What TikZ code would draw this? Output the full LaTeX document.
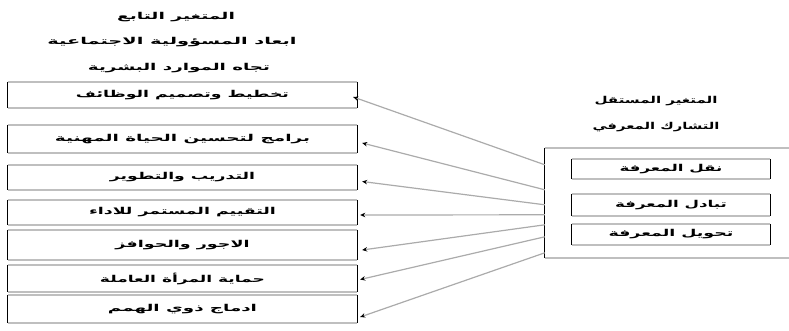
\documentclass[tikz,border=0pt]{standalone}
\usepackage{fontspec}
\usepackage{graphicx}
\usetikzlibrary{arrows.meta}
\TeXXeTstate=1
\newfontfamily\arabicfont[Script=Arabic]{DejaVu Sans}
\newcommand{\artxt}[2]{\resizebox{#1pt}{\height}{\fontsize{9.5pt}{11pt}\arabicfont\bfseries #2}}
\begin{document}
\begin{tikzpicture}[x=1pt,y=-1pt,
  gline/.style={draw=black!25,line width=1.8pt},
  sline/.style={draw=black,line width=0.8pt},
  conn/.style={draw=black!33,line width=1.2pt,-{Stealth[length=5pt,width=4.5pt,black]}},
  lbox/.style={inner sep=0pt,minimum width=349pt},
  rbox/.style={inner sep=0pt,minimum width=198pt},
  ttl/.style={inner sep=0pt}]
\useasboundingbox (0,0) rectangle (789,331);
\clip (0,0) rectangle (789,331);
% titles
\node[ttl] (t1) at (176,17) {\artxt{118}{\beginR المتغير التابع\endR}};
\node[ttl] (t2) at (172,42) {\artxt{249}{\beginR ابعاد المسؤولية الاجتماعية\endR}};
\node[ttl] (t3) at (179,68) {\artxt{182}{\beginR تجاه الموارد البشرية\endR}};
\node[ttl] (r1) at (656,101) {\artxt{123}{\beginR المتغير المستقل\endR}};
\node[ttl] (r2) at (656,127) {\artxt{127}{\beginR التشارك المعرفي\endR}};
% left boxes
\node[lbox,minimum height=26pt] (b1) at (182.5,95) {\artxt{213}{\beginR تخطيط وتصميم الوظائف\endR}};
\node[lbox,minimum height=28pt] (b2) at (182.5,139) {\artxt{255}{\beginR برامج لتحسين الحياة المهنية\endR}};
\node[lbox,minimum height=25pt] (b3) at (182.5,177.5) {\artxt{145}{\beginR التدريب والتطوير\endR}};
\node[lbox,minimum height=25pt] (b4) at (182.5,212.5) {\artxt{187}{\beginR التقييم المستمر للاداء\endR}};
\node[lbox,minimum height=30pt] (b5) at (182.5,245) {\artxt{134}{\beginR الاجور والحوافز\endR}};
\node[lbox,minimum height=27pt] (b6) at (182.5,278.5) {\artxt{165}{\beginR حماية المرأة العاملة\endR}};
\node[lbox,minimum height=28pt] (b7) at (182.5,309) {\artxt{149}{\beginR ادماج ذوي الهمم\endR}};
% right big box
\node[inner sep=0pt,minimum width=255pt,minimum height=110pt] (ind) at (672.5,203) {};
\node[rbox,minimum height=20pt] (k1) at (671,169) {\artxt{103}{\beginR نقل المعرفة\endR}};
\node[rbox,minimum height=22pt] (k2) at (671,205) {\artxt{112}{\beginR تبادل المعرفة\endR}};
\node[rbox,minimum height=21pt] (k3) at (671,234.5) {\artxt{125}{\beginR تحويل المعرفة\endR}};
\foreach \n in {b1,b2,b3,b4,b5,b6,b7,k1,k2,k3} {
  \draw[gline] (\n.north west) -- (\n.north east) (\n.south west) -- (\n.south east);
  \draw[sline] (\n.north west) -- (\n.south west) (\n.north east) -- (\n.south east);
}
\draw[gline] (ind.north west) -- (ind.north east) (ind.south west) -- (ind.south east);
\draw[sline] (ind.north west) -- (ind.south west);
% connectors
\draw[conn] ([shift={(0,17)}]ind.north west) -- ([shift={(-4,2)}]b1.east);
\draw[conn] ([shift={(0,42)}]ind.north west) -- ([shift={(5,4)}]b2.east);
\draw[conn] ([shift={(0,57)}]ind.north west) -- ([shift={(5,4)}]b3.east);
\draw[conn] ([shift={(0,67)}]ind.north west) -- ([shift={(3,2.5)}]b4.east);
\draw[conn] ([shift={(0,77)}]ind.north west) -- ([shift={(5,5)}]b5.east);
\draw[conn] ([shift={(0,89)}]ind.north west) -- ([shift={(3,1)}]b6.east);
\draw[conn] ([shift={(0,105)}]ind.north west) -- ([shift={(3,8)}]b7.east);
\end{tikzpicture}
\end{document}
